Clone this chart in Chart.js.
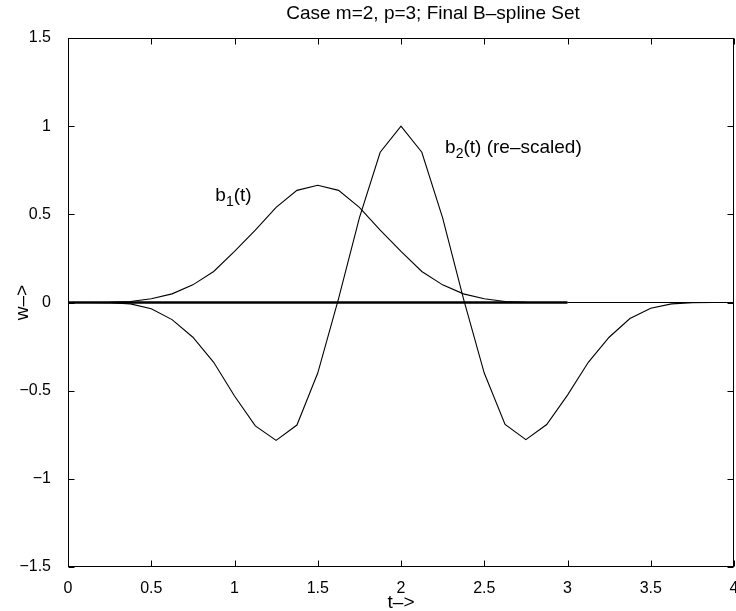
<!DOCTYPE html>
<html>
<head>
<meta charset="utf-8">
<script src="https://cdn.jsdelivr.net/npm/chart.js@4.4.1/dist/chart.umd.min.js"></script>
<style>
html,body{margin:0;padding:0;background:#ffffff;}
#wrap{width:736px;height:611px;}
</style>
</head>
<body>
<div id="wrap"><canvas id="c" width="736" height="611"></canvas></div>
<script>
// ---- data ----
const tB1 = [0,0.125,0.25,0.375,0.5,0.625,0.75,0.875,1,1.125,1.25,1.375,1.5,1.625,1.75,1.875,2,2.125,2.25,2.375,2.5,2.625,2.75,2.875,3];
const b1  = [0,0,0.001,0.006,0.021,0.049,0.100,0.176,0.290,0.410,0.540,0.636,0.665,0.636,0.540,0.410,0.290,0.176,0.100,0.049,0.021,0.006,0.001,0,0];
const tB2 = [0,0.125,0.25,0.375,0.5,0.625,0.75,0.875,1,1.125,1.25,1.375,1.5,1.625,1.75,1.875,2,2.125,2.25,2.375,2.5,2.625,2.75,2.875,3,3.125,3.25,3.375,3.5,3.625,3.75,3.875,4];
const b2  = [0,0,-0.001,-0.008,-0.035,-0.097,-0.197,-0.339,-0.530,-0.700,-0.782,-0.695,-0.400,0.022,0.480,0.852,1.000,0.852,0.480,0.022,-0.400,-0.692,-0.778,-0.692,-0.525,-0.339,-0.197,-0.091,-0.033,-0.008,-0.001,0,0];
const tZeroA = [0,3];
const zeroA  = [0,0];
const tZeroB = [3,4];
const zeroB  = [0,0];
const xTickVals   = [0,0.5,1,1.5,2,2.5,3,3.5,4];
const xTickLabels = ['0','0.5','1','1.5','2','2.5','3','3.5','4'];
const yTickVals   = [-1.5,-1,-0.5,0,0.5,1,1.5];
const yTickLabels = ['\u22121.5','\u22121','\u22120.5','0','0.5','1','1.5'];
const titleText = 'Case m=2, p=3; Final B\u2013spline Set';
const xTitle = 't\u2013>';
const yTitle = 'w\u2013>';
const labelB1 = {base:'b', sub:'1', rest:'(t)', t:0.885, v:0.575};
const labelB2 = {base:'b', sub:'2', rest:'(t) (re\u2013scaled)', t:2.265, v:0.845};

const pts = (xs, ys) => xs.map((x, i) => ({x: x, y: ys[i]}));
const FONT = '"Liberation Sans", Arial, Helvetica, sans-serif';

const framePlugin = {
  id: 'frame',
  afterDraw(chart) {
    const ctx = chart.ctx;
    const a = chart.chartArea;
    const xs = chart.scales.x, ys = chart.scales.y;
    ctx.save();
    ctx.strokeStyle = '#000';
    ctx.lineWidth = 1;
    const L = Math.round(a.left) + 0.5, R = Math.round(a.right) - 0.5;
    const T = Math.round(a.top) + 0.5, B = Math.round(a.bottom) - 0.5;
    ctx.strokeRect(L, T, R - L, B - T);
    const tl = 6;
    ctx.beginPath();
    xTickVals.forEach(v => {
      const px = Math.round(xs.getPixelForValue(v)) + 0.5;
      ctx.moveTo(px, B); ctx.lineTo(px, B - tl);
      ctx.moveTo(px, T); ctx.lineTo(px, T + tl);
    });
    yTickVals.forEach(v => {
      const py = Math.round(ys.getPixelForValue(v)) + 0.5;
      ctx.moveTo(L, py); ctx.lineTo(L + tl, py);
      ctx.moveTo(R, py); ctx.lineTo(R - tl, py);
    });
    ctx.stroke();

    ctx.fillStyle = '#000';
    ctx.textBaseline = 'middle';
    ctx.textAlign = 'center';
    ctx.font = '19px ' + FONT;
    ctx.fillText(titleText, 433, 14);

    const drawLabel = (lb) => {
      const x0 = xs.getPixelForValue(lb.t);
      const y0 = ys.getPixelForValue(lb.v);
      ctx.textAlign = 'left';
      ctx.textBaseline = 'alphabetic';
      ctx.font = '19px ' + FONT;
      ctx.fillText(lb.base, x0, y0);
      let x = x0 + ctx.measureText(lb.base).width;
      ctx.font = '14px ' + FONT;
      ctx.fillText(lb.sub, x, y0 + 5);
      x += ctx.measureText(lb.sub).width;
      ctx.font = '19px ' + FONT;
      ctx.fillText(lb.rest, x, y0);
    };
    drawLabel(labelB1);
    drawLabel(labelB2);
    ctx.restore();
  }
};

new Chart(document.getElementById('c'), {
  type: 'line',
  data: {
    datasets: [
      {label: 'zeroA', data: pts(tZeroA, zeroA), borderColor: '#000', borderWidth: 2.4, pointRadius: 0, tension: 0},
      {label: 'zeroB', data: pts(tZeroB, zeroB), borderColor: '#000', borderWidth: 1, pointRadius: 0, tension: 0},
      {label: 'b1', data: pts(tB1, b1), borderColor: '#000', borderWidth: 1.1, pointRadius: 0, tension: 0},
      {label: 'b2', data: pts(tB2, b2), borderColor: '#000', borderWidth: 1.1, pointRadius: 0, tension: 0}
    ]
  },
  options: {
    responsive: false,
    animation: false,
    devicePixelRatio: 1,
    layout: {padding: {top: 38, right: 2, left: 0, bottom: 0}},
    plugins: {legend: {display: false}, tooltip: {enabled: false}, title: {display: false}},
    elements: {line: {fill: false}},
    scales: {
      x: {
        type: 'linear', min: 0, max: 4,
        afterBuildTicks: s => { s.ticks = xTickVals.map(v => ({value: v})); },
        afterFit: s => { s.height = 44; s.paddingLeft = 0; s.paddingRight = 0; },
        grid: {display: false},
        border: {display: false},
        ticks: {
          color: '#000', padding: 4, maxRotation: 0, autoSkip: false,
          font: {family: FONT, size: 16},
          callback: (v) => { const i = xTickVals.indexOf(v); return i >= 0 ? xTickLabels[i] : ''; }
        },
        title: {display: true, text: xTitle, color: '#000', font: {family: FONT, size: 19}, padding: {top: 0, bottom: -3}}
      },
      y: {
        type: 'linear', min: -1.5, max: 1.5,
        afterBuildTicks: s => { s.ticks = yTickVals.map(v => ({value: v})); },
        afterFit: s => { s.width = 68; s.paddingTop = 0; s.paddingBottom = 0; },
        grid: {display: false},
        border: {display: false},
        ticks: {
          color: '#000', padding: 9, autoSkip: false,
          font: {family: FONT, size: 16},
          callback: (v) => { const i = yTickVals.indexOf(v); return i >= 0 ? yTickLabels[i] : ''; }
        },
        title: {display: true, text: yTitle, color: '#000', font: {family: FONT, size: 19}, padding: {top: 11, bottom: 0}}
      }
    }
  },
  plugins: [framePlugin]
});
</script>
</body>
</html>
